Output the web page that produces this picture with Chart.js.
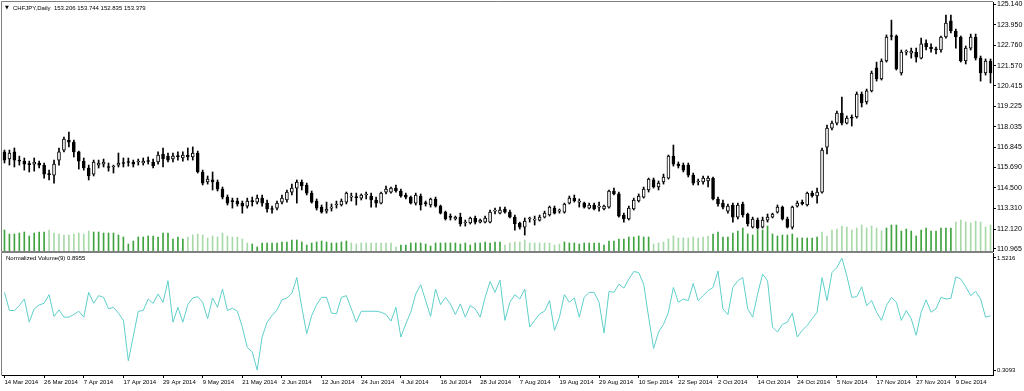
<!DOCTYPE html>
<html>
<head>
<meta charset="utf-8">
<script src="https://cdn.jsdelivr.net/npm/chart.js@4.4.1/dist/chart.umd.min.js"></script>
<style>
    html, body { margin: 0; padding: 0; background: #ffffff; }
    #wrap { position: relative; width: 1024px; height: 391px; overflow: hidden; background: #ffffff; }
    #price-box { position: absolute; left: 0; top: 0; width: 1024px; height: 252px; }
    #normvol-box { position: absolute; left: 0; top: 252px; width: 1024px; height: 139px; }
</style>
</head>
<body>
<div id="wrap">
    <div id="price-box"><canvas id="price-chart"></canvas></div>
    <div id="normvol-box"><canvas id="normvol-chart"></canvas></div>
</div>
<script>
// CHFJPY daily, 14 Mar 2014 .. mid Dec 2014 (200 bars)
let chartTitle = 'CHFJPY,Daily  153.206 153.744 152.835 153.379';
let indicatorTitle = 'Normalized Volume(9) 0.8955';

let dateTicks = ['14 Mar 2014', '26 Mar 2014', '7 Apr 2014', '17 Apr 2014', '29 Apr 2014', '9 May 2014',
    '21 May 2014', '2 Jun 2014', '12 Jun 2014', '24 Jun 2014', '4 Jul 2014', '16 Jul 2014', '28 Jul 2014',
    '7 Aug 2014', '19 Aug 2014', '29 Aug 2014', '10 Sep 2014', '22 Sep 2014', '2 Oct 2014', '14 Oct 2014',
    '24 Oct 2014', '5 Nov 2014', '17 Nov 2014', '27 Nov 2014', '9 Dec 2014'];
let barsPerDateTick = 8;

let priceTicks = [125.140, 123.950, 122.760, 121.570, 120.415, 119.225, 118.035, 116.845, 115.690, 114.500, 113.310, 112.120, 110.965];
let priceMin = 110.849;
let priceMax = 125.256;

let normTicks = [0.3093, 1.5216];
let normMin = 0.2552;
let normMax = 1.5757;

let openPrices = [
    116.58, 116.17, 116.58, 116.11, 116.05, 115.88, 115.88, 115.94, 115.82, 115.30,
    115.24, 116.11, 116.69, 117.27, 117.15, 116.58, 116.05, 115.65, 115.30, 115.82,
    115.88, 115.71, 115.71, 115.82, 115.94, 116.00, 116.00, 116.00, 115.94, 116.05,
    116.00, 116.00, 116.46, 116.34, 116.17, 116.34, 116.23, 116.40, 116.29, 116.52,
    115.42, 114.84, 114.96, 114.84, 114.43, 113.97, 113.74, 113.74, 113.62, 113.45,
    113.74, 113.68, 113.91, 113.62, 113.28, 113.33, 113.68, 113.80, 114.26, 114.49,
    114.84, 114.67, 114.20, 113.74, 113.39, 113.16, 113.33, 113.51, 113.51, 113.68,
    113.97, 113.97, 113.91, 114.09, 114.03, 113.80, 113.62, 114.26, 114.26, 114.49,
    114.32, 114.09, 113.97, 113.62, 114.03, 113.62, 113.51, 113.86, 113.45, 113.10,
    112.81, 112.70, 112.81, 112.47, 112.47, 112.76, 112.52, 112.52, 112.52, 113.16,
    113.04, 113.28, 113.10, 112.81, 112.47, 112.23, 112.70, 112.64, 112.64, 112.81,
    112.93, 113.33, 113.16, 113.10, 113.62, 113.91, 113.68, 113.62, 113.33, 113.51,
    113.39, 113.28, 113.39, 114.32, 114.15, 112.93, 112.70, 113.28, 113.74, 113.97,
    114.38, 114.96, 114.55, 114.84, 115.07, 116.34, 115.88, 115.82, 115.82, 115.24,
    114.84, 114.84, 114.90, 115.07, 113.86, 113.62, 113.16, 113.51, 112.81, 113.57,
    112.99, 112.23, 112.64, 112.23, 112.64, 112.81, 113.10, 113.39, 112.70, 112.23,
    113.45, 113.68, 113.51, 114.20, 114.03, 114.26, 116.86, 117.96, 118.25, 118.83,
    118.25, 118.60, 118.60, 119.93, 119.47, 120.11, 121.44, 120.80, 121.84, 123.29,
    123.29, 121.15, 122.36, 122.30, 122.36, 122.01, 122.88, 122.65, 122.54, 122.48,
    123.23, 124.16, 123.58, 123.23, 121.84, 122.59, 123.23, 122.01, 121.15, 121.84
];
let highPrices = [
    116.69, 116.69, 116.81, 116.34, 116.23, 116.05, 116.23, 116.05, 115.94, 115.53,
    116.11, 116.81, 117.44, 117.73, 117.27, 116.63, 116.23, 115.82, 116.11, 116.11,
    116.17, 115.94, 115.82, 116.52, 116.23, 116.23, 116.11, 116.17, 116.23, 116.29,
    116.17, 116.58, 116.81, 116.52, 116.52, 116.58, 116.58, 116.81, 116.87, 116.63,
    115.53, 115.19, 115.42, 114.96, 114.55, 114.09, 113.91, 113.91, 113.74, 113.91,
    113.97, 114.09, 114.09, 113.80, 113.45, 113.74, 114.09, 114.38, 114.72, 114.96,
    114.96, 114.78, 114.32, 113.86, 113.51, 113.68, 113.57, 113.74, 113.86, 114.26,
    114.20, 114.20, 114.15, 114.26, 114.20, 113.97, 114.26, 114.61, 114.55, 114.67,
    114.43, 114.20, 114.03, 114.20, 114.15, 113.74, 113.91, 113.97, 113.51, 113.16,
    112.99, 112.87, 113.04, 112.64, 112.81, 112.87, 112.70, 112.87, 113.22, 113.33,
    113.39, 113.39, 113.22, 112.93, 112.52, 112.76, 112.81, 112.87, 112.93, 113.16,
    113.45, 113.45, 113.28, 113.62, 114.03, 114.09, 113.86, 113.68, 113.62, 113.62,
    113.68, 113.51, 114.38, 114.49, 114.26, 113.04, 113.45, 113.91, 114.15, 114.55,
    115.07, 115.07, 114.90, 115.30, 116.40, 116.98, 116.00, 115.94, 115.94, 115.36,
    115.01, 115.19, 115.19, 115.13, 113.97, 113.80, 113.57, 113.62, 113.62, 113.68,
    113.04, 112.81, 112.76, 112.81, 112.99, 113.04, 113.51, 113.45, 112.81, 113.45,
    113.74, 113.80, 114.26, 114.32, 114.49, 116.81, 118.14, 118.37, 118.95, 119.76,
    118.66, 118.72, 120.05, 120.05, 120.22, 121.26, 121.78, 121.96, 123.35, 124.21,
    123.35, 122.48, 122.48, 122.59, 122.59, 123.17, 123.06, 122.83, 122.65, 123.29,
    124.50, 124.50, 123.69, 123.29, 122.71, 123.40, 123.40, 122.13, 121.96, 121.96
];
let lowPrices = [
    115.94, 115.82, 115.71, 115.82, 115.53, 115.42, 115.47, 115.65, 115.07, 114.96,
    114.78, 115.82, 116.58, 116.87, 116.29, 115.59, 115.53, 114.96, 115.19, 115.65,
    115.71, 115.47, 115.36, 115.71, 115.71, 115.76, 115.71, 115.82, 115.82, 115.88,
    115.65, 115.88, 115.71, 116.00, 116.00, 116.11, 116.05, 116.11, 116.11, 115.36,
    114.67, 114.72, 114.38, 114.32, 113.86, 113.51, 113.33, 113.45, 113.04, 113.33,
    113.45, 113.57, 113.45, 113.10, 113.04, 113.22, 113.57, 113.68, 114.09, 113.62,
    114.38, 114.09, 113.62, 113.22, 113.04, 113.04, 113.16, 113.33, 113.45, 113.57,
    113.74, 113.51, 113.80, 113.86, 113.39, 113.39, 113.57, 114.15, 114.20, 114.26,
    113.97, 113.86, 113.57, 113.51, 113.22, 113.45, 113.39, 113.39, 112.99, 112.64,
    112.64, 112.64, 112.29, 112.29, 112.41, 112.41, 112.47, 112.47, 112.47, 112.99,
    112.99, 113.04, 112.76, 112.06, 112.12, 111.77, 112.52, 112.35, 112.58, 112.76,
    112.87, 112.99, 113.04, 113.04, 113.57, 113.68, 113.39, 113.33, 113.28, 113.22,
    113.16, 113.22, 113.33, 114.09, 112.81, 112.52, 112.64, 113.22, 113.68, 113.91,
    114.26, 114.49, 114.38, 114.72, 115.01, 115.76, 115.65, 115.42, 115.13, 114.67,
    114.67, 114.72, 114.55, 113.80, 113.45, 113.28, 113.04, 112.52, 112.70, 112.81,
    112.29, 112.18, 112.12, 112.18, 112.52, 112.76, 113.04, 112.64, 112.18, 112.12,
    113.39, 113.51, 113.45, 113.97, 113.62, 114.20, 116.46, 117.85, 118.14, 118.14,
    118.20, 118.08, 118.54, 119.18, 119.35, 120.05, 120.68, 120.74, 121.78, 123.06,
    121.32, 121.03, 122.19, 122.01, 121.78, 121.96, 122.48, 122.36, 122.25, 122.36,
    123.17, 123.46, 122.59, 121.78, 121.67, 122.48, 121.90, 120.68, 121.03, 120.57
];
let closePrices = [
    116.11, 116.52, 116.11, 116.05, 115.88, 115.85, 116.00, 115.82, 115.30, 115.27,
    115.88, 116.58, 117.33, 117.15, 116.58, 116.05, 115.65, 115.19, 116.00, 115.94,
    116.00, 115.68, 115.74, 115.94, 115.91, 115.97, 115.88, 116.01, 116.05, 116.03,
    115.77, 116.40, 116.17, 116.11, 116.34, 116.31, 116.40, 116.29, 116.52, 115.42,
    114.78, 115.01, 114.84, 114.43, 113.97, 113.62, 113.71, 113.57, 113.45, 113.74,
    113.71, 113.91, 113.62, 113.28, 113.25, 113.62, 113.91, 114.26, 114.49, 114.84,
    114.61, 114.20, 113.68, 113.33, 113.10, 113.28, 113.34, 113.52, 113.74, 114.20,
    113.98, 113.94, 114.09, 114.10, 113.80, 113.62, 114.20, 114.43, 114.49, 114.32,
    114.03, 113.97, 113.62, 114.09, 113.51, 113.59, 113.86, 113.45, 113.04, 112.70,
    112.79, 112.81, 112.41, 112.48, 112.76, 112.52, 112.64, 112.76, 113.10, 113.17,
    113.22, 113.10, 112.81, 112.41, 112.23, 112.58, 112.71, 112.65, 112.81, 113.04,
    113.39, 113.04, 113.17, 113.57, 113.91, 113.74, 113.69, 113.39, 113.51, 113.28,
    113.40, 113.45, 114.32, 114.15, 112.87, 112.70, 113.33, 113.80, 114.03, 114.43,
    115.01, 114.55, 114.78, 115.13, 116.34, 115.88, 115.77, 115.53, 115.24, 114.78,
    114.85, 115.07, 115.07, 113.86, 113.57, 113.39, 113.45, 112.81, 113.51, 112.93,
    112.41, 112.70, 112.18, 112.64, 112.81, 112.99, 113.39, 112.70, 112.23, 113.39,
    113.62, 113.57, 114.20, 114.03, 114.26, 116.69, 117.96, 118.25, 118.83, 118.25,
    118.54, 118.54, 119.93, 119.41, 120.11, 121.15, 120.80, 121.84, 123.23, 123.26,
    121.38, 122.36, 122.37, 122.42, 122.07, 122.83, 122.65, 122.54, 122.48, 123.23,
    124.04, 123.58, 123.23, 121.84, 122.59, 123.23, 122.01, 121.15, 121.84, 121.15
];

// tick volume (thousands)
let tickVolume = [
    21, 17, 17, 18, 19, 15, 18, 19, 19, 21,
    18, 17, 16, 16, 17, 18, 17, 20, 19, 19,
    18, 18, 18, 16, 14, 7, 10, 14, 14, 15,
    15, 14, 18, 18, 12, 14, 12, 14, 16, 17,
    16, 13, 15, 14, 18, 15, 14, 14, 12, 8,
    7, 4, 8, 8, 8, 8, 9, 9, 11, 11,
    9, 6, 8, 9, 10, 9, 8, 8, 9, 10,
    8, 7, 8, 8, 8, 8, 8, 8, 8, 4,
    6, 6, 8, 8, 8, 7, 5, 8, 8, 8,
    8, 8, 7, 8, 6, 8, 8, 9, 8, 9,
    9, 6, 8, 9, 9, 11, 8, 8, 8, 8,
    8, 6, 7, 9, 8, 8, 7, 8, 8, 8,
    8, 6, 10, 10, 12, 12, 14, 14, 15, 14,
    14, 7, 8, 9, 12, 15, 13, 13, 13, 14,
    13, 14, 15, 17, 19, 14, 14, 18, 20, 23,
    17, 16, 21, 21, 25, 17, 15, 16, 16, 17,
    13, 13, 13, 13, 14, 19, 15, 21, 22, 25,
    24, 21, 23, 26, 23, 25, 23, 20, 23, 26,
    26, 20, 22, 20, 15, 21, 23, 20, 20, 23,
    23, 23, 29, 31, 29, 28, 30, 29, 24, 26
];
// bar index ranges drawn in the pale volume colour
let paleVolumeRanges = [[9, 17], [37, 49], [70, 79], [101, 112], [131, 142], [165, 177], [192, 199]];

let normalizedVolume = [
    1.150, 0.953, 0.953, 1.007, 1.078, 0.827, 0.971, 1.014, 1.031, 1.125,
    0.889, 0.960, 0.881, 0.881, 0.910, 0.945, 0.881, 1.150, 1.031, 1.114,
    1.096, 0.971, 0.988, 0.924, 0.846, 0.409, 0.674, 0.945, 0.953, 1.078,
    1.031, 1.132, 1.042, 1.275, 0.827, 0.988, 0.827, 1.017, 1.089, 1.103,
    1.042, 0.864, 1.089, 0.988, 1.186, 0.953, 0.978, 0.945, 0.774, 0.553,
    0.505, 0.3093, 0.666, 0.827, 0.899, 0.960, 1.068, 1.089, 1.139, 1.310,
    0.988, 0.703, 0.899, 1.017, 1.096, 1.096, 0.926, 0.917, 1.096, 1.114,
    0.971, 0.827, 0.945, 0.945, 0.945, 0.945, 0.935, 0.910, 0.838, 0.988,
    0.666, 0.810, 0.935, 1.132, 1.232, 1.060, 0.889, 1.186, 1.017, 1.096,
    1.025, 0.910, 1.025, 0.881, 1.007, 0.971, 0.881, 1.096, 1.267, 1.150,
    1.282, 0.846, 1.042, 1.125, 1.078, 1.186, 0.774, 0.846, 0.917, 0.945,
    1.060, 0.738, 0.881, 1.125, 1.042, 1.089, 0.881, 1.096, 1.150, 1.150,
    1.042, 0.709, 1.160, 1.150, 1.239, 1.196, 1.293, 1.375, 1.364, 1.239,
    0.881, 0.542, 0.720, 0.803, 0.935, 1.203, 1.042, 1.078, 1.060, 1.246,
    1.060, 1.114, 1.168, 1.203, 1.382, 0.971, 0.910, 1.203, 1.275, 1.310,
    0.971, 0.881, 1.132, 1.347, 1.275, 0.774, 0.720, 0.803, 0.827, 0.924,
    0.666, 0.738, 0.792, 0.864, 0.935, 1.310, 1.060, 1.364, 1.418, 1.5216,
    1.328, 1.096, 1.103, 1.210, 1.007, 1.060, 0.935, 0.846, 1.007, 1.096,
    1.042, 0.846, 0.953, 0.864, 0.685, 0.935, 1.068, 0.935, 0.971, 1.096,
    1.078, 1.085, 1.318, 1.293, 1.210, 1.114, 1.160, 1.078, 0.881, 0.8955
];

let fontFamily = '"Liberation Sans", Arial, sans-serif';
let barIndex = openPrices.map((o, i) => i);

let candleBodies = openPrices.map((o, i) => [Math.min(o, closePrices[i]), Math.max(o, closePrices[i])]);
let candleWicks = lowPrices.map((l, i) => [l, highPrices[i]]);
let bodyColors = openPrices.map((o, i) => closePrices[i] >= o ? '#ffffff' : '#000000');
let volumeColors = tickVolume.map((v, i) => {
    let pale = paleVolumeRanges.some(r => i >= r[0] && i <= r[1]);
    return pale ? '#a9d9a9' : '#3fa33f';
});

// grey frame on left/top/bottom of a panel, right side is the axis line
let panelFrame = {
    id: 'panelFrame',
    afterDraw: function (chart, args, opts) {
        let a = chart.chartArea;
        let ctx = chart.ctx;
        ctx.save();
        ctx.strokeStyle = '#808080';
        ctx.lineWidth = 1;
        ctx.beginPath();
        ctx.moveTo(a.right, a.top - 0.5);
        ctx.lineTo(a.left - 0.5, a.top - 0.5);
        ctx.lineTo(a.left - 0.5, a.bottom + 0.5);
        if (opts.bottom) {
            ctx.lineTo(a.right, a.bottom + 0.5);
        }
        ctx.stroke();
        ctx.restore();
    }
};

let panelCaption = {
    id: 'panelCaption',
    afterDraw: function (chart, args, opts) {
        let a = chart.chartArea;
        let ctx = chart.ctx;
        ctx.save();
        ctx.fillStyle = '#000000';
        ctx.textBaseline = 'middle';
        ctx.font = '6px ' + fontFamily;
        let x = a.left + opts.dx;
        if (opts.marker) {
            ctx.font = '5px "DejaVu Sans", sans-serif';
            ctx.fillText('\u25BC', x, a.top + opts.dy);
            x += 8;
            ctx.font = '6px ' + fontFamily;
        }
        ctx.fillText(opts.text, x, a.top + opts.dy);
        ctx.restore();
    }
};

let priceChart = new Chart(document.getElementById('price-chart').getContext('2d'), {
    type: 'bar',
    data: {
        labels: barIndex,
        datasets: [
            {
                label: 'body',
                data: candleBodies,
                backgroundColor: bodyColors,
                borderColor: '#000000',
                borderWidth: 1,
                borderSkipped: false,
                barThickness: 3,
                minBarLength: 1,
                grouped: false,
                yAxisID: 'y',
                order: 0
            },
            {
                label: 'wick',
                data: candleWicks,
                backgroundColor: '#000000',
                borderWidth: 0,
                barThickness: 1,
                grouped: false,
                yAxisID: 'y',
                order: 1
            },
            {
                label: 'volume',
                data: tickVolume,
                backgroundColor: volumeColors,
                borderWidth: 0,
                barThickness: 1,
                grouped: false,
                yAxisID: 'yv',
                order: 2
            }
        ]
    },
    options: {
        responsive: true,
        maintainAspectRatio: false,
        animation: false,
        layout: { padding: { left: 2, top: 2, bottom: 1, right: 0 } },
        plugins: {
            legend: { display: false },
            tooltip: { enabled: false },
            panelFrame: { bottom: true },
            panelCaption: { text: chartTitle, dx: 3, dy: 6, marker: true }
        },
        scales: {
            x: {
                display: false,
                offset: true,
                grid: { display: false }
            },
            y: {
                position: 'right',
                min: priceMin,
                max: priceMax,
                afterBuildTicks: function (scale) {
                    scale.ticks = priceTicks.map(v => ({ value: v }));
                },
                afterFit: function (scale) {
                    scale.width = 31;
                    scale.paddingTop = 0;
                    scale.paddingBottom = 0;
                },
                ticks: {
                    color: '#000000',
                    padding: 1,
                    font: { family: fontFamily, size: 7 },
                    callback: v => Number(v).toFixed(3)
                },
                grid: { drawOnChartArea: false, tickLength: 3, tickColor: '#000000' },
                border: { display: true, color: '#000000' }
            },
            yv: {
                display: false,
                min: 0,
                max: 249
            }
        }
    },
    plugins: [panelFrame, panelCaption]
});

let normVolChart = new Chart(document.getElementById('normvol-chart').getContext('2d'), {
    type: 'line',
    data: {
        labels: barIndex,
        datasets: [
            {
                label: indicatorTitle,
                data: normalizedVolume,
                borderColor: '#5fcfca',
                borderWidth: 1,
                pointRadius: 0,
                tension: 0,
                fill: false
            }
        ]
    },
    options: {
        responsive: true,
        maintainAspectRatio: false,
        animation: false,
        layout: { padding: { left: 2, top: 1, bottom: 0, right: 0 } },
        plugins: {
            legend: { display: false },
            tooltip: { enabled: false },
            panelFrame: { bottom: false },
            panelCaption: { text: indicatorTitle, dx: 4, dy: 5, marker: false }
        },
        scales: {
            x: {
                type: 'category',
                offset: true,
                afterFit: function (scale) {
                    scale.height = 16;
                },
                ticks: {
                    autoSkip: false,
                    maxRotation: 0,
                    align: 'start',
                    padding: 1,
                    color: '#000000',
                    font: { family: fontFamily, size: 6 },
                    callback: (v, i) => i % barsPerDateTick === 0 ? dateTicks[i / barsPerDateTick] : ''
                },
                grid: {
                    offset: false,
                    drawOnChartArea: false,
                    tickLength: 3,
                    tickColor: c => c.index % barsPerDateTick === 0 ? '#000000' : 'rgba(0,0,0,0)'
                },
                border: { display: true, color: '#000000' }
            },
            y: {
                position: 'right',
                min: normMin,
                max: normMax,
                afterBuildTicks: function (scale) {
                    scale.ticks = normTicks.map(v => ({ value: v }));
                },
                afterFit: function (scale) {
                    scale.width = 31;
                    scale.paddingTop = 0;
                    scale.paddingBottom = 0;
                },
                ticks: {
                    color: '#000000',
                    padding: 1,
                    font: { family: fontFamily, size: 6 },
                    callback: v => Number(v).toFixed(4)
                },
                grid: { drawOnChartArea: false, tickLength: 3, tickColor: '#000000' },
                border: { display: true, color: '#000000' }
            }
        }
    },
    plugins: [panelFrame, panelCaption]
});
</script>
</body>
</html>
